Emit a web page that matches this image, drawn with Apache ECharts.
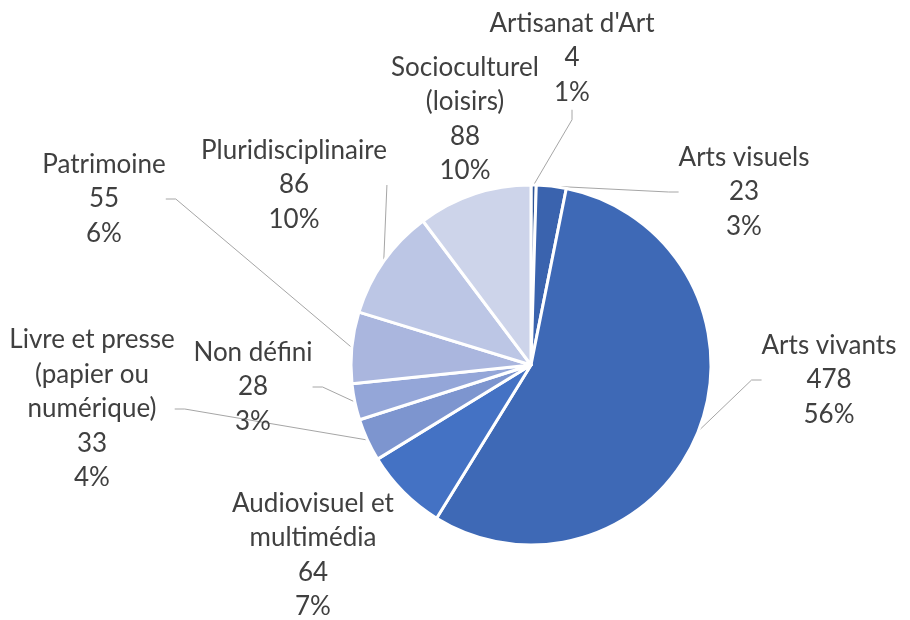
<!DOCTYPE html>
<html>
<head>
<meta charset="utf-8">
<script src="https://cdn.jsdelivr.net/npm/echarts@6/dist/echarts.min.js"></script>
<style>
  html, body { margin: 0; padding: 0; background: #fff; }
  #main { width: 910px; height: 620px; }
</style>
</head>
<body>
<div id="main"></div>
<script>
// categories, clockwise from the top
var categories = [
    "Artisanat d'Art",
    'Arts visuels',
    'Arts vivants',
    'Audiovisuel et\nmultimédia',
    'Livre et presse\n(papier ou\nnumérique)',
    'Non défini',
    'Patrimoine',
    'Pluridisciplinaire',
    'Socioculturel\n(loisirs)'
]
var counts = [4, 23, 478, 64, 33, 28, 55, 86, 88]

var sliceColors = ['#2f5597', '#3a63ae', '#3e69b6', '#4472c4', '#7d95cf', '#94a6d8', '#aab6de', '#bcc6e5', '#cdd4ea']
// hand-placed label centres, like the original
var labelSpots = [
    [572, 58], [744, 192], [829, 380], [313, 555], [92, 409],
    [253, 387], [104, 199], [294, 185], [465, 119]
]
// labels sitting right next to their slice get no leader line
var noLeader = [3, 8]

var chart = echarts.init(document.getElementById('main'))

var data = categories.map(function (name, i) {
    return {
        name: name,
        value: counts[i],
        itemStyle: { color: sliceColors[i] },
        labelLine: { show: noLeader.indexOf(i) < 0 }
    }
})

var option = {
    backgroundColor: '#fff',
    animation: false,
    series: [
        {
            type: 'pie',
            center: [531, 365],
            radius: 180,
            startAngle: 90,
            clockwise: true,
            percentPrecision: 0,
            data: data,
            itemStyle: {
                borderColor: '#fff',
                borderWidth: 3
            },
            label: {
                show: true,
                position: 'outside',
                formatter: '{b}\n{c}\n{d}%',
                color: '#404040',
                fontFamily: 'Lato',
                fontSize: 26,
                lineHeight: 34.5,
                align: 'center'
            },
            labelLine: {
                show: true,
                length: 10,
                length2: 10,
                lineStyle: { color: '#a6a6a6', width: 1 }
            },
            labelLayout: function (params) {
                var p = labelSpots[params.dataIndex]
                return {
                    x: p[0],
                    y: p[1],
                    align: 'center',
                    verticalAlign: 'middle'
                }
            }
        }
    ]
}

chart.setOption(option)
</script>
</body>
</html>
